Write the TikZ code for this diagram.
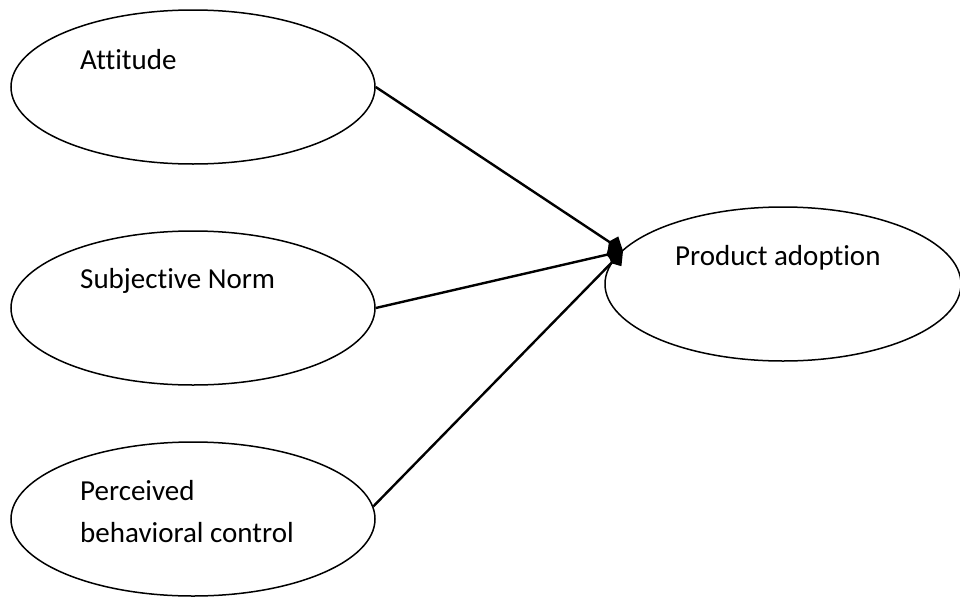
\documentclass[tikz,border=0pt]{standalone}
\usepackage{fontspec}
\setmainfont{Carlito}[Ligatures={NoCommon}]
\usetikzlibrary{shapes.geometric,arrows.meta}
\begin{document}
\begin{tikzpicture}[x=1pt,y=-1pt,
  oval/.style={draw=black,line width=1.5pt,ellipse,inner sep=0pt,minimum width=364pt,minimum height=154pt},
  lbl/.style={anchor=base west,inner sep=0pt,font=\fontsize{29}{42}\selectfont},
  link/.style={draw=black,line width=2.4pt,-{Kite[length=17pt,width=19pt,inset=5pt]}}]
\useasboundingbox[fill=white] (0,0) rectangle (960,597);
\node[oval] (att) at (193,87) {};
\node[oval] (sub) at (193,308) {};
\node[oval] (per) at (193,519) {};
\node[oval,minimum width=356pt] (pa) at (783,284) {};
\node[lbl] (tatt) at (80,69) {Attitude};
\node[lbl] (tsub) at (80,288) {Subjective Norm};
\node[lbl] (tper1) at (80,500) {Perceived};
\node[lbl] (tper2) at (80,542) {behavioral control};
\node[lbl] (tpa) at (675,265) {Product adoption};
\coordinate (tip) at (623,251);
\draw[link] (att.east) -- (tip);
\draw[link] (sub.east) -- (tip);
\draw[link] (per.4.5) -- (tip);
\end{tikzpicture}
\end{document}
